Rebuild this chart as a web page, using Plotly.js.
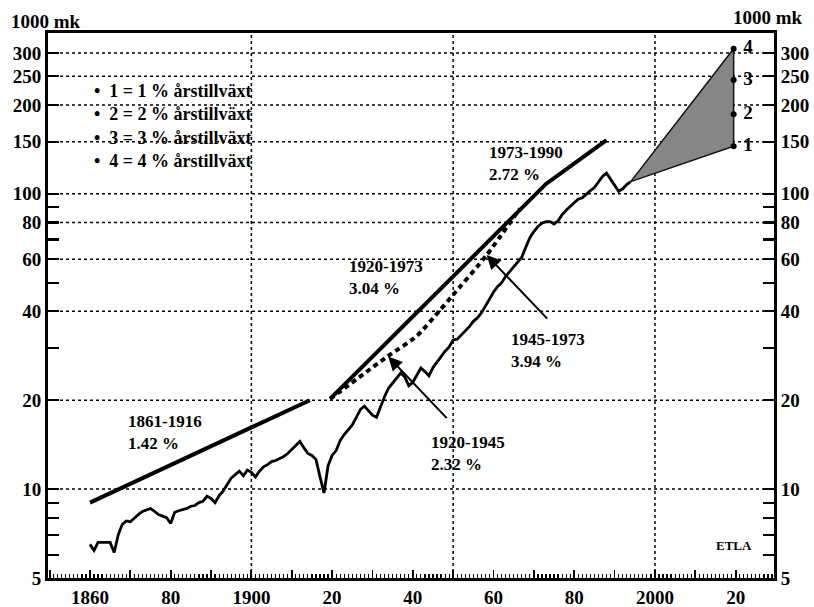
<!DOCTYPE html>
<html><head><meta charset="utf-8">
<script src="https://cdn.plot.ly/plotly-3.0.1.min.js"></script>
<style>html,body{margin:0;padding:0;background:#fff}</style>
</head><body><div id="chart" style="width:814px;height:607px"></div>
<script>
// ---- data (1000 mk, log scale) ----
const years = [1860,1861,1862,1863,1864,1865,1866,1867,1868,1869,1870,1871,1872,1873,1874,1875,1876,1877,1878,1879,
  1880,1881,1882,1883,1884,1885,1886,1887,1888,1889,1890,1891,1892,1893,1894,1895,1896,1897,1898,1899,
  1900,1901,1902,1903,1904,1905,1906,1907,1908,1909,1910,1911,1912,1913,1914,1915,1916,1917,1918,1919,
  1920,1921,1922,1923,1924,1925,1926,1927,1928,1929,1930,1931,1932,1933,1934,1935,1936,1937,1938,1939,
  1940,1941,1942,1943,1944,1945,1946,1947,1948,1949,1950,1951,1952,1953,1954,1955,1956,1957,1958,1959,
  1960,1961,1962,1963,1964,1965,1966,1967,1968,1969,1970,1971,1972,1973,1974,1975,1976,1977,1978,1979,
  1980,1981,1982,1983,1984,1985,1986,1987,1988,1989,1990,1991,1992,1993,1994];
const gdpPerCapita = [6.5,6.2,6.6,6.6,6.6,6.6,6.1,7.0,7.6,7.8,7.75,8.0,8.2,8.4,8.5,8.6,8.4,8.2,8.1,8.0,
  7.65,8.35,8.45,8.5,8.6,8.75,8.8,9.0,9.1,9.45,9.3,9.0,9.5,9.85,10.4,10.9,11.2,11.5,11.1,11.6,
  11.4,11.0,11.5,11.9,12.1,12.4,12.5,12.7,12.9,13.2,13.6,14.0,14.5,13.8,13.2,13.0,12.6,11.0,9.7,12.0,
  13.0,13.5,14.6,15.3,15.9,16.5,17.5,18.6,19.1,18.5,17.8,17.5,19.0,20.6,22.0,22.8,23.8,24.7,24.0,22.4,
  23.0,24.2,25.7,25.0,24.2,25.8,27.0,28.0,29.3,30.3,32.0,32.2,33.3,34.2,35.5,37.0,38.0,39.5,41.5,44.0,
  46.5,48.5,50.0,52.5,54.5,56.5,58.5,61.0,66.0,71.0,74.5,77.5,79.5,80.5,80.5,79.0,81.0,85.0,88.0,90.5,
  93.5,96.0,97.0,100.0,102.5,105.0,110.0,114.5,117.5,112.0,106.0,102.0,104.0,107.5,110.0];

const trend1861Years = [1860, 1914.5];
const trend1861Values = [9.0, 20.0];
const trend1920Years = [1919.5, 1973, 1988];
const trend1920Values = [20.2, 108, 152];
const trend1945Years = [1919.5, 1933.5, 1941, 1946.7, 1950, 1958.3, 1966.5];
const trend1945Values = [20.2, 28, 33, 40.3, 45.5, 62, 89];

const fanStartYear = 1994;
const fanStartValue = 110;
const fanEndYear = 2019.5;
const fanLabels = ['1', '2', '3', '4'];
const fanValues = [145, 186, 243, 310];

const arrow1920Year = 1933.9, arrow1920Value = 28.1;
const arrow1945Year = 1958.3, arrow1945Value = 62;

const xTickVals = [1850,1860,1870,1880,1890,1900,1910,1920,1930,1940,1950,1960,1970,1980,1990,2000,2010,2020,2030];
const xTickText = ['','1860','','80','','1900','','20','','40','','60','','80','','2000','','20',''];
const xGridVals = [1900, 1950, 2000];
const yTickVals = [5,6,7,8,9,10,20,30,40,50,60,70,80,90,100,150,200,250,300];
const yTickText = ['5','','','','','10','20','','40','','60','','80','','100','150','200','250','300'];
const yGridVals = [10,20,40,60,80,100,150,200,250,300];

const legendLines = ['1 = 1 % årstillväxt','2 = 2 % årstillväxt','3 = 3 % årstillväxt','4 = 4 % årstillväxt'];

// ---- layout helpers ----
const L = 48, R = 774, T = 33, B = 578, W = 814, H = 607;
const px = x => (x - L) / (R - L);
const py = y => (B - y) / (B - T);
const FONT = 'Liberation Serif, Times New Roman, serif';
const boldFont = size => ({family: FONT, size: size, color: '#000', weight: 'bold'});
const Y_RANGE = [0.699, 2.5446];
const X_RANGE = [1849.6, 2029.5];

const traces = [
  {x: [fanStartYear, fanEndYear, fanEndYear, fanStartYear],
   y: [fanStartValue, fanValues[3], fanValues[0], fanStartValue],
   mode: 'lines', fill: 'toself',
   fillcolor: '#868686', line: {color: '#111', width: 1.5}, hoverinfo: 'skip'},
  {x: years, y: gdpPerCapita, mode: 'lines', line: {color: '#000', width: 2.8}},
  {x: trend1861Years, y: trend1861Values, mode: 'lines', line: {color: '#000', width: 4}},
  {x: trend1920Years, y: trend1920Values, mode: 'lines', line: {color: '#000', width: 4}},
  {x: trend1945Years, y: trend1945Values, mode: 'lines', line: {color: '#000', width: 4, dash: '5px,4px', shape: 'spline', smoothing: 0.6}},
  {x: fanValues.map(() => fanEndYear), y: fanValues, xaxis: 'x', yaxis: 'y2',
   mode: 'markers+text', text: fanLabels.map(s => ' ' + s), textposition: 'middle right',
   textfont: boldFont(19), marker: {color: '#000', size: 6}}
];

const yCommon = {
  type: 'log', range: Y_RANGE, tickmode: 'array', tickvals: yTickVals, ticktext: yTickText,
  ticks: 'inside', ticklen: 11, tickwidth: 2.2, tickcolor: '#000', tickfont: boldFont(19),
  showline: true, linecolor: '#000', linewidth: 3, zeroline: false, showgrid: false
};

const noteFont = boldFont(17);
const annotations = [
  {text: '1000 mk', xref: 'paper', yref: 'paper', x: px(9), y: py(21), xanchor: 'left', yanchor: 'middle', showarrow: false, font: boldFont(19)},
  {text: '1000 mk', xref: 'paper', yref: 'paper', x: px(731), y: py(18), xanchor: 'left', yanchor: 'middle', showarrow: false, font: boldFont(19)},
  {text: legendLines.map(s => '•  ' + s).join('<br>'), xref: 'paper', yref: 'paper', x: px(92), y: py(79), xanchor: 'left', yanchor: 'top', align: 'left', showarrow: false, font: boldFont(18)},
  {text: '1861-1916<br>1.42 %', xref: 'paper', yref: 'paper', x: px(126), y: py(432), xanchor: 'left', yanchor: 'middle', align: 'left', showarrow: false, font: noteFont},
  {text: '1920-1973<br>3.04 %', xref: 'paper', yref: 'paper', x: px(347), y: py(277), xanchor: 'left', yanchor: 'middle', align: 'left', showarrow: false, font: noteFont},
  {text: '1973-1990<br>2.72 %', xref: 'paper', yref: 'paper', x: px(487), y: py(164), xanchor: 'left', yanchor: 'middle', align: 'left', showarrow: false, font: noteFont},
  {text: '1945-1973<br>3.94 %', xref: 'paper', yref: 'paper', x: px(509), y: py(350), xanchor: 'left', yanchor: 'middle', align: 'left', showarrow: false, font: noteFont},
  {text: '1920-1945<br>2.32 %', xref: 'paper', yref: 'paper', x: px(429), y: py(453), xanchor: 'left', yanchor: 'middle', align: 'left', showarrow: false, font: noteFont},
  {text: 'ETLA', xref: 'paper', yref: 'paper', x: px(734), y: py(545), xanchor: 'center', yanchor: 'middle', showarrow: false, font: boldFont(13)},
  {text: '', x: arrow1920Year, y: Math.log10(arrow1920Value), xref: 'x', yref: 'y', showarrow: true, ax: 60, ay: 63, arrowhead: 2, arrowsize: 1.4, arrowwidth: 2, arrowcolor: '#000', standoff: 0},
  {text: '', x: arrow1945Year, y: Math.log10(arrow1945Value), xref: 'x', yref: 'y', showarrow: true, ax: 62, ay: 65, arrowhead: 2, arrowsize: 1.4, arrowwidth: 2, arrowcolor: '#000', standoff: 0}
];

// dotted grid lines at the chosen grid values (drawn below the data)
const gridLine = {color: '#000', width: 1.5, dash: 'dot'};
const shapes = [].concat(
  xGridVals.map(v => ({type: 'line', layer: 'below', xref: 'x', yref: 'paper', x0: v, x1: v, y0: 0, y1: 1, line: gridLine})),
  yGridVals.map(v => ({type: 'line', layer: 'below', xref: 'paper', yref: 'y', x0: 0, x1: 1, y0: v, y1: v, line: gridLine}))
);

const layout = {
  width: W, height: H, margin: {l: L, r: W - R, t: T, b: H - B, pad: 0},
  paper_bgcolor: '#fff', plot_bgcolor: '#fff', showlegend: false,
  font: {family: FONT, color: '#000'},
  xaxis: {range: X_RANGE, tickmode: 'array', tickvals: xTickVals, ticktext: xTickText,
    ticks: 'inside', ticklen: 8, tickwidth: 1.8, tickcolor: '#000', tickfont: boldFont(19),
    showline: true, mirror: true, linecolor: '#000', linewidth: 3, showgrid: false, zeroline: false,
    minor: {dtick: 1, tick0: 1850, ticks: 'inside', ticklen: 4, tickwidth: 1.2, tickcolor: '#000', showgrid: false}},
  yaxis: Object.assign({}, yCommon, {side: 'left'}),
  yaxis2: Object.assign({}, yCommon, {side: 'right', overlaying: 'y'}),
  shapes: shapes,
  annotations: annotations
};

Plotly.newPlot('chart', traces, layout, {staticPlot: true, displayModeBar: false});
</script></body></html>
